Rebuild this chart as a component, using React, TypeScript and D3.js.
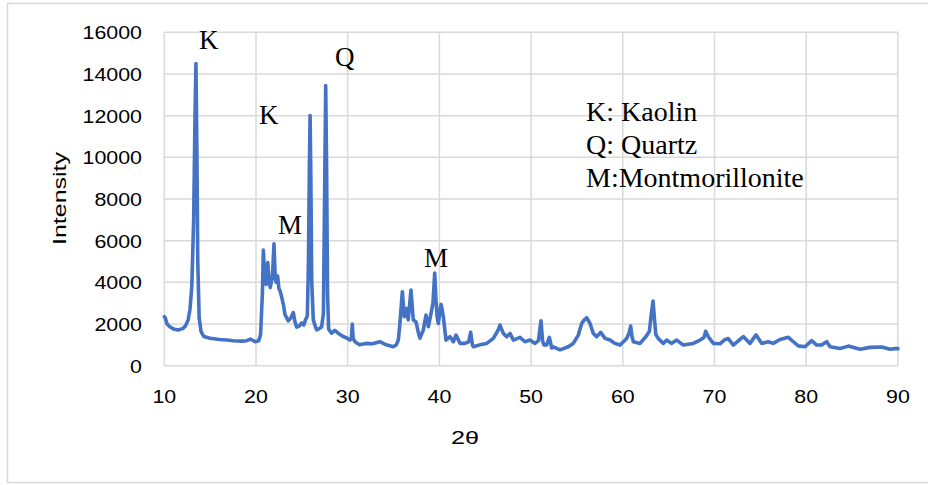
import React from "react";
import * as d3 from "d3";

// 2θ (degrees)
const twoTheta: number[] = [
  10.0, 10.1, 10.3, 10.6, 11.0, 11.5, 12.0, 12.3, 12.6, 12.8, 13.0, 13.2, 13.35, 13.45, 13.55, 13.65, 13.8, 14.0, 14.3,
  15.0, 16.0, 16.8, 17.5, 18.5, 19.0, 19.4, 19.9, 20.3, 20.5, 20.7, 20.8, 20.95, 21.1, 21.28, 21.45, 21.55, 21.8,
  21.96, 22.1, 22.2, 22.36, 22.5, 22.62, 22.8, 23.0, 23.16, 23.35, 23.52, 23.8, 24.07, 24.25, 24.44, 24.7, 24.98,
  25.2, 25.4, 25.6, 25.72, 25.82, 25.9, 25.98, 26.08, 26.25, 26.45, 26.62, 26.9, 27.16, 27.35, 27.5, 27.6, 27.7,
  27.8, 27.92, 28.1, 28.25, 28.6, 29.0, 29.5, 29.9, 30.25, 30.4, 30.5, 30.6, 30.8, 31.3, 32.0, 32.7, 33.5, 34.2,
  34.97, 35.3, 35.52, 35.7, 35.96, 36.17, 36.43, 36.6, 36.9, 37.15, 37.45, 37.7, 37.88, 38.24, 38.54, 38.8, 39.05,
  39.3, 39.49, 39.62, 39.75, 39.88, 40.17, 40.3, 40.43, 40.72, 41.16, 41.52, 41.81, 42.25, 42.79, 43.2, 43.41, 43.6,
  43.7, 44.4, 45.16, 45.88, 46.4, 46.6, 46.97, 47.34, 47.7, 48.06, 48.79, 49.33, 49.88, 50.43, 50.8, 50.97, 51.08,
  51.25, 51.4, 51.7, 51.99, 52.25, 52.42, 53.15, 54.06, 54.6, 55.15, 55.52, 55.8, 56.06, 56.42, 56.78, 57.15, 57.59,
  58.06, 58.6, 59.15, 59.7, 60.43, 60.7, 60.86, 61.0, 61.15, 61.88, 62.53, 62.9, 63.1, 63.3, 63.45, 63.6, 63.87,
  64.42, 64.79, 65.3, 65.88, 66.6, 67.69, 68.42, 68.85, 69.04, 69.33, 69.87, 70.6, 71.15, 71.5, 72.05, 73.14, 73.87,
  74.53, 75.15, 75.87, 76.4, 77.14, 78.05, 78.6, 79.14, 79.87, 80.6, 81.14, 81.7, 82.24, 82.6, 83.69, 84.6, 85.87,
  86.96, 88.24, 89.14, 89.87, 90.0,
];

// Intensity (counts)
const intensity: number[] = [
  2350, 2300, 2000, 1870, 1760, 1710, 1780, 1900, 2200, 2700, 3800, 7000, 12000, 14500, 10500, 5000, 2300, 1650, 1400,
  1320, 1260, 1230, 1200, 1180, 1200, 1280, 1150, 1200, 1500, 3500, 5550, 4200, 3900, 4950, 4000, 3750, 4300,
  5850, 4200, 4000, 4300, 3700, 3600, 3300, 2900, 2450, 2300, 2150, 2300, 2550, 2100, 1850, 1900, 2050,
  1950, 2200, 2400, 5000, 9500, 12000, 9000, 4000, 2200, 1900, 1720, 1780, 1870, 2500, 9000, 13450, 9500,
  3500, 1750, 1650, 1560, 1700, 1550, 1400, 1330, 1230, 1300, 2000, 1300, 1150, 1000, 1070, 1050, 1150, 1000,
  910, 1000, 1230, 2050, 3550, 2350, 2750, 2200, 3630, 2200, 2100, 1600, 1320, 1710, 2430, 1870, 2430,
  3000, 4450, 3200, 2350, 2030, 2950, 2700, 2350, 1230, 1390, 1150, 1470, 1070, 1070, 1150, 1600, 1000,
  910, 1000, 1070, 1310, 1700, 1950, 1550, 1390, 1550, 1230, 1360, 1150, 1230, 1070, 1200, 1800, 2150,
  1200, 1000, 1000, 1360, 850, 900, 760, 910, 1070, 1470, 2030, 2200, 2300, 2030, 1550, 1390, 1600,
  1310, 1230, 1070, 990, 1310, 1600, 1900, 1400, 1150, 1070, 1400, 1650, 2450, 3100, 2250, 1500, 1300,
  1070, 1230, 1070, 1230, 990, 1070, 1230, 1350, 1650, 1390, 1070, 1050, 1260, 1300, 990, 1400, 1070,
  1480, 1070, 1150, 1070, 1260, 1360, 1150, 950, 910, 1200, 990, 1000, 1150, 910, 830, 940, 790,
  880, 900, 790, 830, 820,
];

const xTicks: number[] = [10, 20, 30, 40, 50, 60, 70, 80, 90];
const yTicks: number[] = [0, 2000, 4000, 6000, 8000, 10000, 12000, 14000, 16000];

// Peak labels (text, 2θ, intensity at text baseline)
const peakLabels: string[] = ["K", "K", "Q", "M", "M"];
const peakTheta: number[] = [13.78, 20.33, 28.61, 22.4, 38.32];
const peakLevel: number[] = [15200, 11600, 14385, 6320, 4738];

const legendLines: string[] = ["K: Kaolin", "Q: Quartz", "M:Montmorillonite"];

const xTitle = "2θ";
const yTitle = "Intensity";

export default function App() {
  const W = 928;
  const H = 485;
  const x = d3.scaleLinear().domain([10, 90]).range([164.3, 897.9]);
  const y = d3.scaleLinear().domain([0, 16000]).range([365.7, 32.3]);
  const pts: [number, number][] = twoTheta.map((t, i) => [t, intensity[i]]);
  const line = d3
    .line<[number, number]>()
    .x((d) => x(d[0]))
    .y((d) => y(d[1]));
  const sans = "'Liberation Sans', Arial, sans-serif";
  const serif = "'Liberation Serif', 'Times New Roman', serif";
  const grid = "#d9d9d9";

  return (
    <svg
      width={W}
      height={H}
      style={{ position: "absolute", left: 0, top: 0, background: "#fff" }}
    >
      <rect x={0} y={0} width={W} height={H} fill="#fff" />
      <rect x={7.5} y={3.5} width={930} height={479} fill="none" stroke={grid} strokeWidth={1.5} />
      {yTicks.map((t) => (
        <line key={"h" + t} x1={x(10)} x2={x(90)} y1={y(t)} y2={y(t)} stroke={grid} strokeWidth={1.5} />
      ))}
      {xTicks.map((t) => (
        <line key={"v" + t} x1={x(t)} x2={x(t)} y1={y(0)} y2={y(16000)} stroke={grid} strokeWidth={1.5} />
      ))}
      <path d={line(pts) || ""} fill="none" stroke="#4472C4" strokeWidth={3.6} strokeLinejoin="round" strokeLinecap="round" />
      {yTicks.map((t) => {
        const s = String(t);
        return (
          <text
            key={"yl" + t}
            x={142}
            y={y(t) + 7}
            textAnchor="end"
            fontFamily={sans}
            fontSize={19}
            fill="#000"
            textLength={s.length * 11.9}
            lengthAdjust="spacingAndGlyphs"
          >
            {s}
          </text>
        );
      })}
      {xTicks.map((t) => {
        const s = String(t);
        return (
          <text
            key={"xl" + t}
            x={x(t)}
            y={403}
            textAnchor="middle"
            fontFamily={sans}
            fontSize={19}
            fill="#000"
            textLength={s.length * 11.9}
            lengthAdjust="spacingAndGlyphs"
          >
            {s}
          </text>
        );
      })}
      <text
        x={465}
        y={444}
        textAnchor="middle"
        fontFamily={sans}
        fontSize={19}
        fill="#000"
        textLength={28}
        lengthAdjust="spacingAndGlyphs"
      >
        {xTitle}
      </text>
      <text
        transform="translate(66,198.5) rotate(-90)"
        textAnchor="middle"
        fontFamily={sans}
        fontSize={19}
        fill="#000"
        textLength={93}
        lengthAdjust="spacingAndGlyphs"
      >
        {yTitle}
      </text>
      {peakLabels.map((l, i) => (
        <text
          key={"pk" + i}
          x={x(peakTheta[i])}
          y={y(peakLevel[i])}
          fontFamily={serif}
          fontSize={27}
          fill="#000"
        >
          {l}
        </text>
      ))}
      {legendLines.map((l, i) => (
        <text key={"lg" + i} x={586} y={121 + i * 33} fontFamily={serif} fontSize={28} fill="#000">
          {l}
        </text>
      ))}
    </svg>
  );
}
